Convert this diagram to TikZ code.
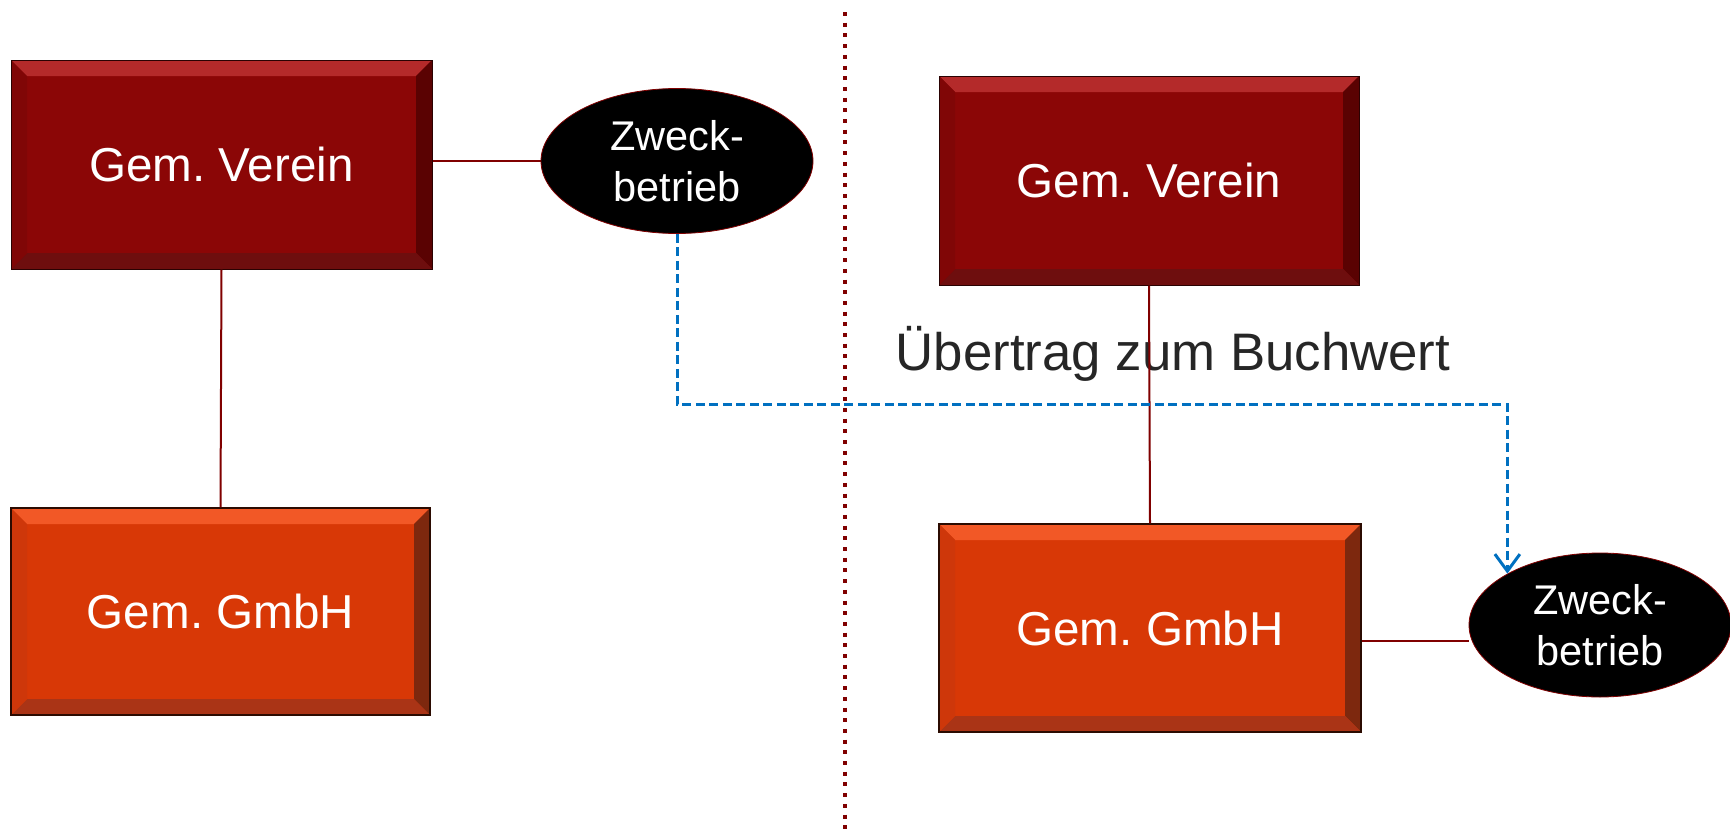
\documentclass[tikz,border=0pt]{standalone}
\usepackage{fontspec}
\setmainfont{Liberation Sans}
\frenchspacing
\usetikzlibrary{shapes.geometric,arrows.meta,calc}
\definecolor{vred}{RGB}{139,6,6}
\definecolor{vredtop}{RGB}{180,42,42}
\definecolor{vreddark}{RGB}{90,2,2}
\definecolor{vredbot}{RGB}{110,14,14}
\definecolor{vredleft}{RGB}{128,6,6}
\definecolor{gorange}{RGB}{216,56,6}
\definecolor{gotop}{RGB}{242,88,38}
\definecolor{godark}{RGB}{125,40,14}
\definecolor{gobot}{RGB}{170,52,22}
\definecolor{goleft}{RGB}{206,55,10}
\definecolor{linered}{RGB}{128,0,0}
\definecolor{arrowblue}{RGB}{0,112,192}
\definecolor{labelgray}{RGB}{38,38,38}
\tikzset{
  bev/.style n args={4}{path picture={
    \fill[#1] (path picture bounding box.north west) -- (path picture bounding box.north east)
      -- ([shift={(-16pt,-16pt)}]path picture bounding box.north east)
      -- ([shift={(16pt,-16pt)}]path picture bounding box.north west) -- cycle;
    \fill[#2] (path picture bounding box.north east) -- (path picture bounding box.south east)
      -- ([shift={(-16pt,16pt)}]path picture bounding box.south east)
      -- ([shift={(-16pt,-16pt)}]path picture bounding box.north east) -- cycle;
    \fill[#3] (path picture bounding box.south east) -- (path picture bounding box.south west)
      -- ([shift={(16pt,16pt)}]path picture bounding box.south west)
      -- ([shift={(-16pt,16pt)}]path picture bounding box.south east) -- cycle;
    \fill[#4] (path picture bounding box.south west) -- (path picture bounding box.north west)
      -- ([shift={(16pt,-16pt)}]path picture bounding box.north west)
      -- ([shift={(16pt,16pt)}]path picture bounding box.south west) -- cycle;
  }},
  boxtext/.style={text=white, inner sep=0pt, font=\fontsize{47.6}{57}\selectfont},
  vbox/.style={rectangle, boxtext, fill=vred, draw=black!70!vred, line width=1pt,
    minimum width=421pt, minimum height=209pt, bev={vredtop}{vreddark}{vredbot}{vredleft}},
  gbox/.style={rectangle, boxtext, fill=gorange, draw=black!80!gorange, line width=1.5pt,
    minimum width=421pt, minimum height=208pt, bev={gotop}{godark}{gobot}{goleft}},
  zell/.style={ellipse, fill=black, draw=linered, line width=0.8pt, inner sep=0pt,
    text=white, align=center, font=\fontsize{41.5}{51}\selectfont},
  link/.style={draw=linered, line width=2pt},
  transfer/.style={draw=arrowblue, line width=3pt, dash pattern=on 9pt off 4.5pt,
    -{Straight Barb[length=17pt,width=25pt,line width=3pt]}},
  divider/.style={draw=linered, line width=4pt, dash pattern=on 4pt off 6.7pt}
}
\begin{document}
\begin{tikzpicture}[x=1pt,y=-1pt]
\useasboundingbox (0,0) rectangle (1730,835);
% divider
\coordinate (dtop) at (845,12);
\coordinate (dbot) at (845,835);
\draw[divider] (dtop) -- (dbot);
% left side
\node[vbox] (verein1) at (221.5,164.5) {Gem. Verein};
\node[gbox, minimum width=419pt, minimum height=207pt] (gmbh1) at (220.5,611.5) {Gem. GmbH};
\node[zell, minimum width=272pt, minimum height=145pt] (zb1) at (677,161) {Zweck-\\betrieb};
% right side
\node[vbox, minimum width=420pt] (verein2) at (1149,180.5) {Gem. Verein};
\node[gbox, minimum width=422pt] (gmbh2) at (1150,628) {Gem. GmbH};
\node[zell, minimum width=262pt, minimum height=144pt] (zb2) at (1600,625) {Zweck-\\betrieb};
% label
\node[text=labelgray, inner sep=0pt, font=\fontsize{52.8}{60}\selectfont] (lbl) at (1173,354) {Übertrag zum Buchwert};
% connectors
\draw[link] (zb1.west -| verein1.east) -- (zb1.west);
\draw[link] (verein1.south) -- (gmbh1.north);
\draw[link] (verein2.south) -- (gmbh2.north);
\draw[link] ([yshift=-13pt]gmbh2.east) -- ([yshift=-16pt]zb2.west);
\coordinate (mid) at (1000,404);
\draw[transfer] (zb1.south) |- (mid) -| (zb2.151);
\end{tikzpicture}
\end{document}
